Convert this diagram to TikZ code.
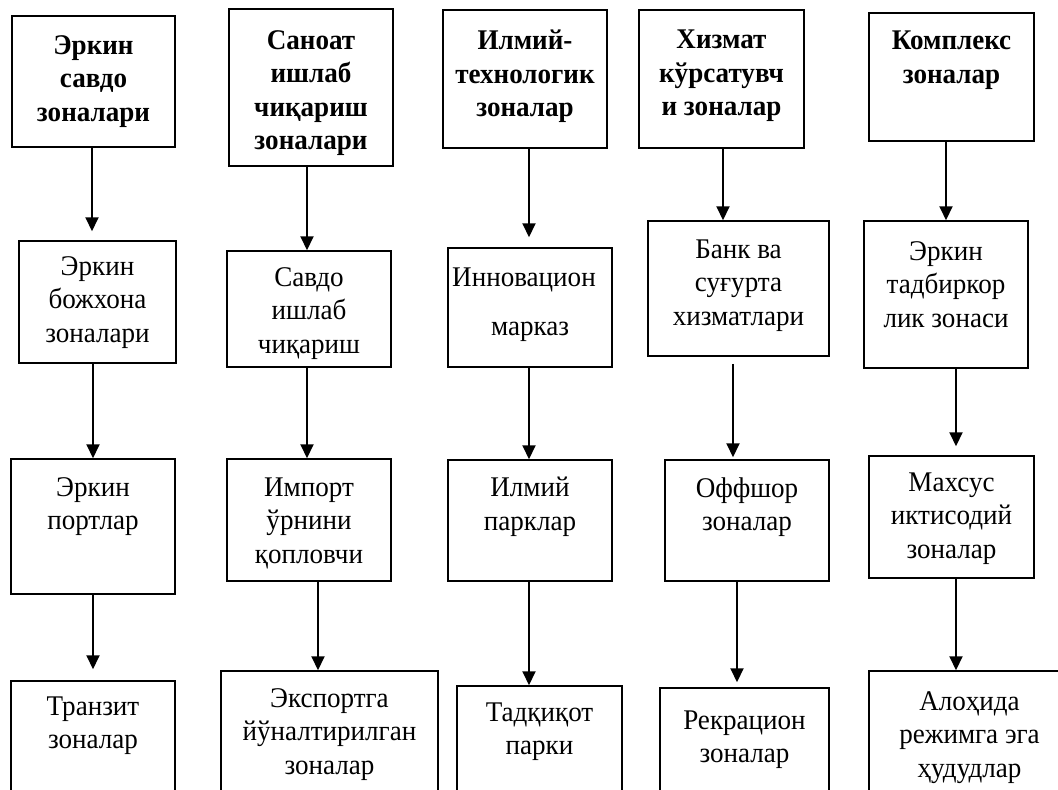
\documentclass[tikz,border=0pt]{standalone}
\usepackage{fontspec}
\setmainfont{Liberation Serif}[FakeStretch=0.95]
\usetikzlibrary{arrows.meta}

\tikzset{
	zbox/.style={draw, line width=1.5pt, inner sep=0pt},
	zhead/.style={zbox, line width=2pt},
	ztext/.style={anchor=north, align=center, inner sep=0pt, font=\fontsize{28.5}{33.5}\selectfont},
	zbold/.style={ztext, font=\fontsize{28.5}{33.5}\selectfont\bfseries},
	zarrow/.style={line width=2pt, -{Triangle[width=13pt,length=14pt]}}
}

\begin{document}
\begin{tikzpicture}[x=1pt,y=-1pt]
		\useasboundingbox (0,0) rectangle (1058,790);
		% top row
		\node[zhead, minimum width=163, minimum height=131] (A1) at (93.5,81.5) {};
		\node[zhead, minimum width=164, minimum height=157] (B1) at (311,87.5) {};
		\node[zhead, minimum width=164, minimum height=138] (C1) at (525,79) {};
		\node[zhead, minimum width=165, minimum height=138] (D1) at (721.5,79) {};
		\node[zhead, minimum width=165, minimum height=128] (E1) at (951.5,77) {};
		\node[zbold] (A1t) at ([yshift=-20]A1.north) {Эркин\\савдо\\зоналари};
		\node[zbold] (B1t) at ([yshift=-22]B1.north) {Саноат\\ишлаб\\чиқариш\\зоналари};
		\node[zbold] (C1t) at ([yshift=-21]C1.north) {Илмий-\\технологик\\зоналар};
		\node[zbold] (D1t) at ([yshift=-21]D1.north) {Хизмат\\кўрсатувч\\и зоналар};
		\node[zbold] (E1t) at ([yshift=-19]E1.north) {Комплекс\\зоналар};
		% second row
		\node[zbox, minimum width=157, minimum height=122] (A2) at (97.5,302) {};
		\node[zbox, minimum width=164, minimum height=116] (B2) at (309,309) {};
		\node[zbox, minimum width=164, minimum height=119] (C2) at (530,307.5) {};
		\node[zbox, minimum width=181, minimum height=135] (D2) at (738.5,288.5) {};
		\node[zbox, minimum width=164, minimum height=147] (E2) at (946,294.5) {};
		\node[ztext] (A2t) at ([yshift=-16]A2.north) {Эркин\\божхона\\зоналари};
		\node[ztext] (B2t) at ([yshift=-17]B2.north) {Савдо\\ишлаб\\чиқариш};
		\node[ztext] (C2t) at ([xshift=-6,yshift=-20]C2.north) {Инновацион\\[16pt]\hspace*{12pt}марказ};
		\node[ztext] (D2t) at ([yshift=-19]D2.north) {Банк ва\\суғурта\\хизматлари};
		\node[ztext] (E2t) at ([yshift=-21]E2.north) {Эркин\\тадбиркор\\лик зонаси};
		% third row
		\node[zbox, minimum width=164, minimum height=135] (A3) at (93,526.5) {};
		\node[zbox, minimum width=164, minimum height=122] (B3) at (309,520) {};
		\node[zbox, minimum width=164, minimum height=121] (C3) at (530,520.5) {};
		\node[zbox, minimum width=164, minimum height=121] (D3) at (747,520.5) {};
		\node[zbox, minimum width=165, minimum height=122] (E3) at (951.5,517) {};
		\node[ztext] (A3t) at ([yshift=-19]A3.north) {Эркин\\портлар};
		\node[ztext] (B3t) at ([yshift=-19]B3.north) {Импорт\\ўрнини\\қопловчи};
		\node[ztext] (C3t) at ([yshift=-18]C3.north) {Илмий\\парклар};
		\node[ztext] (D3t) at ([yshift=-18]D3.north) {Оффшор\\зоналар};
		\node[ztext] (E3t) at ([yshift=-17]E3.north) {Махсус\\иктисодий\\зоналар};
		% bottom row
		\node[zbox, minimum width=164, minimum height=125] (A4) at (93,743.5) {};
		\node[zbox, minimum width=217, minimum height=135] (B4) at (329.5,738.5) {};
		\node[zbox, minimum width=165, minimum height=120] (C4) at (539.5,746) {};
		\node[zbox, minimum width=169, minimum height=118] (D4) at (744.5,747) {};
		\node[zbox, minimum width=201, minimum height=135] (E4) at (969.5,738.5) {};
		\node[ztext] (A4t) at ([yshift=-16]A4.north) {Транзит\\зоналар};
		\node[ztext] (B4t) at ([yshift=-18]B4.north) {Экспортга\\йўналтирилган\\зоналар};
		\node[ztext] (C4t) at ([yshift=-17]C4.north) {Тадқиқот\\парки};
		\node[ztext] (D4t) at ([yshift=-23]D4.north) {Рекрацион\\зоналар};
		\node[ztext] (E4t) at ([yshift=-21]E4.north) {Алоҳида\\режимга эга\\ҳудудлар};
		% arrows
		\draw[zarrow, shorten >=9pt] ([xshift=-1.5pt]A1.south) -- ([xshift=-1.5pt]A1.south |- A2.north);
		\draw[zarrow] ([xshift=-4.5pt]A2.south) -- ([xshift=-4.5pt]A2.south |- A3.north);
		\draw[zarrow, shorten >=11pt] (A3.south) -- (A3.south |- A4.north);
		\draw[zarrow] ([xshift=-4pt]B1.south) -- ([xshift=-4pt]B1.south |- B2.north);
		\draw[zarrow] ([xshift=-2pt]B2.south) -- ([xshift=-2pt]B2.south |- B3.north);
		\draw[zarrow] ([xshift=9pt]B3.south) -- ([xshift=9pt]B3.south |- B4.north);
		\draw[zarrow, shorten >=10pt] ([xshift=4pt]C1.south) -- ([xshift=4pt]C1.south |- C2.north);
		\draw[zarrow] ([xshift=-1pt]C2.south) -- ([xshift=-1pt]C2.south |- C3.north);
		\draw[zarrow] ([xshift=-1pt]C3.south) -- ([xshift=-1pt]C3.south |- C4.north);
		\draw[zarrow] ([xshift=1.5pt]D1.south) -- ([xshift=1.5pt]D1.south |- D2.north);
		\draw[zarrow, shorten <=7pt, shorten >=2pt] ([xshift=-5.5pt]D2.south) -- ([xshift=-5.5pt]D2.south |- D3.north);
		\draw[zarrow, shorten >=5pt] ([xshift=-10pt]D3.south) -- ([xshift=-10pt]D3.south |- D4.north);
		\draw[zarrow] ([xshift=-5.5pt]E1.south) -- ([xshift=-5.5pt]E1.south |- E2.north);
		\draw[zarrow, shorten >=9pt] ([xshift=10pt]E2.south) -- ([xshift=10pt]E2.south |- E3.north);
		\draw[zarrow] ([xshift=4.5pt]E3.south) -- ([xshift=4.5pt]E3.south |- E4.north);
	\end{tikzpicture}
\end{document}
